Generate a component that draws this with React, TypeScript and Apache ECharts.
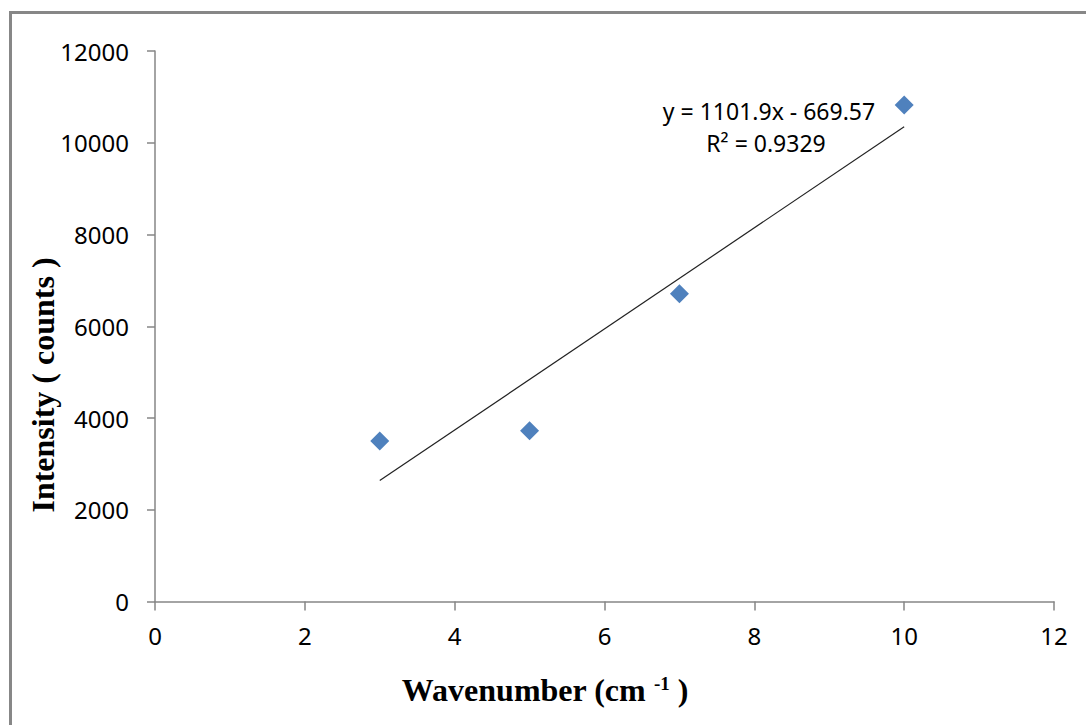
import React, { useEffect, useRef } from "react";
import * as echarts from "echarts";

const xValues = [3, 5, 7, 10];
const yValues = [3500, 3720, 6710, 10825];
const slope = 1101.9;
const intercept = -669.57;
const rSquared = "0.9329";
const xTitle = "Wavenumber (cm ";
const xTitleSup = "-1";
const yTitle = "Intensity ( counts )";

export default function App() {
  const ref = useRef<HTMLDivElement>(null);
  useEffect(() => {
    const chart = echarts.init(ref.current!, null, { renderer: "svg" });
    const pts = xValues.map((x, i) => [x, yValues[i]]);
    const x0 = Math.min(...xValues);
    const x1 = Math.max(...xValues);
    const trend = [
      [x0, slope * x0 + intercept],
      [x1, slope * x1 + intercept],
    ];
    const axisColor = "#868686";
    const labelFont = { fontFamily: "Noto Sans", fontSize: 24, color: "#000" };
    chart.setOption({
      animation: false,
      backgroundColor: "#fff",
      grid: { left: 155, right: 32, top: 51, bottom: 123.5 },
      xAxis: {
        type: "value",
        min: 0,
        max: 12,
        interval: 2,
        axisLine: { show: true, lineStyle: { color: axisColor, width: 1.5 } },
        axisTick: { show: true, length: 9, lineStyle: { color: axisColor, width: 1.5 } },
        splitLine: { show: false },
        axisLabel: { ...labelFont, margin: 22, formatter: (v: number) => String(v) },
      },
      yAxis: {
        type: "value",
        min: 0,
        max: 12000,
        interval: 2000,
        axisLine: { show: true, lineStyle: { color: axisColor, width: 1.5 } },
        axisTick: { show: true, length: 8, lineStyle: { color: axisColor, width: 1.5 } },
        splitLine: { show: false },
        axisLabel: { ...labelFont, margin: 26, formatter: (v: number) => String(v) },
      },
      series: [
        {
          type: "line",
          data: trend,
          symbol: "none",
          lineStyle: { color: "#222", width: 1.2 },
          z: 1,
        },
        {
          type: "scatter",
          data: pts,
          symbol: "diamond",
          symbolSize: 19,
          itemStyle: { color: "#4F81BD", opacity: 1 },
          z: 2,
        },
      ],
      graphic: [
        {
          type: "rect",
          shape: { x: 10.5, y: 12.5, width: 1200, height: 900 },
          style: { fill: "none", stroke: "#878787", lineWidth: 3 },
          silent: true,
        },
        {
          type: "text",
          x: 769,
          y: 111,
          style: {
            text: `y = ${slope}x - ${Math.abs(intercept)}`,
            fontFamily: "Noto Sans",
            fontSize: 23,
            fill: "#000",
            align: "center",
            verticalAlign: "middle",
          },
        },
        {
          type: "text",
          x: 766,
          y: 143,
          style: {
            text: `R² = ${rSquared}`,
            fontFamily: "Noto Sans",
            fontSize: 23,
            fill: "#000",
            align: "center",
            verticalAlign: "middle",
          },
        },
        {
          type: "text",
          x: 545,
          y: 690,
          style: {
            text: `{a|${xTitle}}{s|${xTitleSup}}{a| )}`,
            align: "center",
            verticalAlign: "middle",
            rich: {
              a: { fontFamily: "Liberation Serif", fontWeight: "bold", fontSize: 32, color: "#000" },
              s: { fontFamily: "Liberation Serif", fontWeight: "bold", fontSize: 19, color: "#000", padding: [0, 0, 14, 0] },
            },
          },
        },
        {
          type: "text",
          x: 43,
          y: 385,
          rotation: Math.PI / 2,
          style: {
            text: yTitle,
            fontFamily: "Liberation Serif",
            fontWeight: "bold",
            fontSize: 32,
            fill: "#000",
            align: "center",
            verticalAlign: "middle",
          },
        },
      ],
    });
    return () => chart.dispose();
  }, []);
  return (
    <div
      ref={ref}
      style={{ position: "fixed", left: 0, top: 0, width: 1086, height: 725 }}
    />
  );
}
